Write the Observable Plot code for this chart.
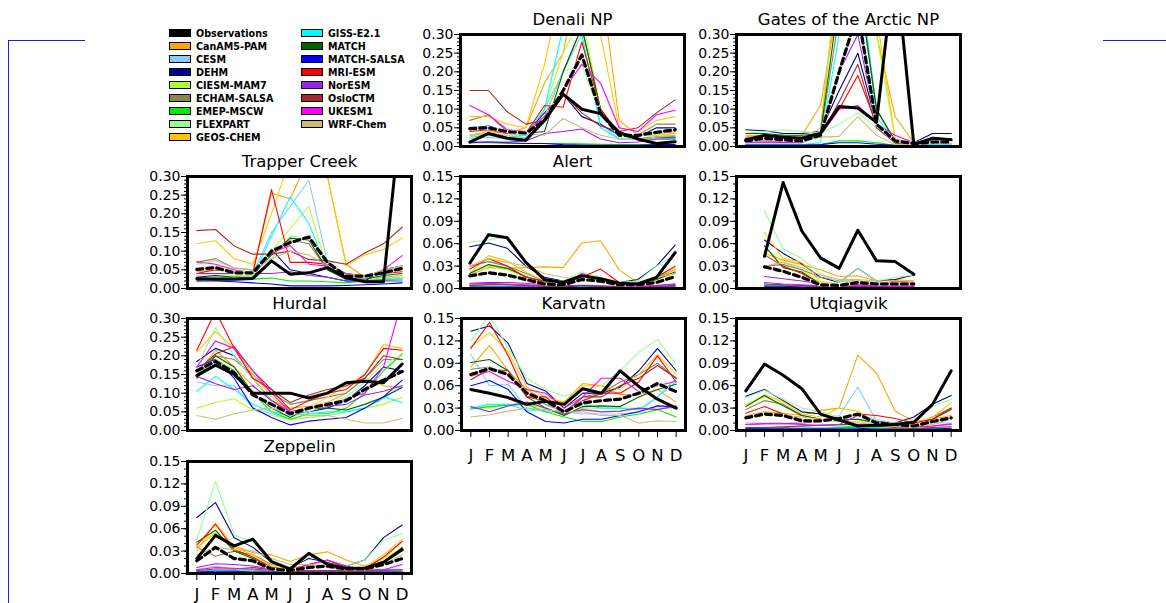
<!DOCTYPE html>
<html><head><meta charset="utf-8">
<script src="https://cdn.jsdelivr.net/npm/d3@7"></script>
<script src="https://cdn.jsdelivr.net/npm/@observablehq/plot@0.6"></script>
<style>
body{margin:0;background:#fff;width:1166px;height:603px;overflow:hidden;position:relative;font-family:"DejaVu Sans",sans-serif}
.panel{position:absolute}
.bl{position:absolute;background:#1a1aff}
.leg{position:absolute;font-family:"DejaVu Sans",sans-serif;font-weight:bold;font-size:9.6px;line-height:13px;white-space:nowrap;color:#000}
.leg span.sw{display:inline-block;width:20px;height:6px;border:1px solid #000;vertical-align:middle;margin-right:5px;position:relative;top:-1px}
</style></head><body>
<div class="bl" style="left:8px;top:40px;width:1px;height:563px"></div>
<div class="bl" style="left:8px;top:40px;width:77px;height:1px"></div>
<div class="bl" style="left:1103px;top:40px;width:63px;height:1px"></div>
<div id="root"></div>
<script>
// ---------- categories ----------
const monthLabels = ["J","F","M","A","M","J","J","A","S","O","N","D"];
const modelNames = ["CanAM5-PAM","CESM","DEHM","CIESM-MAM7","ECHAM-SALSA","EMEP-MSCW","FLEXPART","GEOS-CHEM","GISS-E2.1","MATCH","MATCH-SALSA","MRI-ESM","NorESM","OsloCTM","UKESM1","WRF-Chem"];
const modelColors = ["#ffa500","#87cefa","#00008b","#adff2f","#8b864e","#00ee00","#98fb98","#ffc800","#00ffff","#006400","#0000ff","#ff0000","#a020f0","#a52a2a","#ff00ff","#cdbb75"];
const legendCol1 = ["Observations","CanAM5-PAM","CESM","DEHM","CIESM-MAM7","ECHAM-SALSA","EMEP-MSCW","FLEXPART","GEOS-CHEM"];
const legendCol2 = ["GISS-E2.1","MATCH","MATCH-SALSA","MRI-ESM","NorESM","OsloCTM","UKESM1","WRF-Chem"];
const ticks030 = [0,0.05,0.10,0.15,0.20,0.25,0.30];
const ticks015 = [0,0.03,0.06,0.09,0.12,0.15];

// ---------- Denali NP ----------
const denaliObs = [0.012,0.035,0.022,0.017,0.07,0.14,0.10,0.088,0.038,0.02,0.008,0.013];
const denaliMedian = [0.048,0.05,0.04,0.036,0.07,0.15,0.245,0.09,0.03,0.03,0.038,0.045];
const denaliModels = [
 [0.03,0.04,0.035,0.05,0.17,0.25,0.5,0.45,0.07,0.03,0.03,0.035],
 [0.02,0.025,0.02,0.025,0.1,0.2,0.3,0.06,0.02,0.02,0.02,0.02],
 [0.05,0.055,0.04,0.035,0.09,0.14,0.08,0.06,0.03,0.025,0.05,0.05],
 [0.03,0.03,0.02,0.03,0.1,0.25,0.35,0.1,0.03,0.02,0.03,0.03],
 [0.07,0.085,0.04,0.035,0.08,0.2,0.32,0.1,0.03,0.03,0.06,0.06],
 [0.01,0.01,0.008,0.008,0.008,0.008,0.007,0.006,0.005,0.005,0.005,0.005],
 [0.03,0.03,0.03,0.03,0.08,0.2,0.22,0.08,0.03,0.02,0.025,0.025],
 [0.08,0.08,0.06,0.05,0.22,0.45,0.5,0.3,0.05,0.04,0.07,0.08],
 [0.025,0.03,0.025,0.03,0.1,0.32,0.3,0.05,0.02,0.02,0.02,0.02],
 [0.045,0.05,0.04,0.035,0.04,0.2,0.32,0.1,0.03,0.02,0.025,0.025],
 [0.01,0.012,0.01,0.008,0.008,0.005,0.004,0.003,0.003,0.003,0.005,0.005],
 [0.04,0.045,0.035,0.035,0.11,0.105,0.28,0.1,0.035,0.03,0.035,0.04],
 [0.012,0.012,0.012,0.015,0.035,0.04,0.047,0.02,0.01,0.012,0.02,0.02],
 [0.15,0.15,0.093,0.06,0.07,0.14,0.09,0.055,0.04,0.05,0.09,0.125],
 [0.11,0.085,0.045,0.04,0.08,0.15,0.22,0.17,0.05,0.04,0.085,0.097],
 [0.03,0.035,0.03,0.035,0.03,0.075,0.05,0.03,0.02,0.02,0.025,0.03]
];

// ---------- Gates of the Arctic NP ----------
const gatesObs = [0.018,0.03,0.025,0.022,0.035,0.107,0.103,0.065,0.5,0.005,0.022,0.018];
const gatesMedian = [0.015,0.022,0.018,0.015,0.03,0.2,0.36,0.06,0.015,0.008,0.012,0.012];
const gatesModels = [
 [0.03,0.03,0.025,0.03,0.11,0.4,0.5,0.3,0.08,0.01,0.02,0.02],
 [0.01,0.012,0.01,0.01,0.05,0.5,0.5,0.1,0.01,0.005,0.01,0.01],
 [0.045,0.042,0.035,0.035,0.04,0.15,0.25,0.06,0.01,0.01,0.035,0.035],
 [0.02,0.025,0.02,0.02,0.04,0.5,0.5,0.3,0.02,0.01,0.02,0.02],
 [0.025,0.03,0.025,0.025,0.03,0.35,0.45,0.1,0.01,0.008,0.015,0.015],
 [0.005,0.005,0.005,0.004,0.005,0.015,0.015,0.01,0.003,0.002,0.003,0.003],
 [0.035,0.04,0.045,0.04,0.035,0.06,0.09,0.05,0.015,0.01,0.025,0.02],
 [0.025,0.03,0.03,0.025,0.04,0.5,0.5,0.35,0.02,0.01,0.02,0.02],
 [0.005,0.005,0.005,0.005,0.01,0.3,0.5,0.08,0.01,0.005,0.005,0.005],
 [0.035,0.035,0.03,0.03,0.035,0.4,0.45,0.1,0.015,0.01,0.02,0.02],
 [0.004,0.004,0.004,0.004,0.005,0.01,0.01,0.006,0.003,0.002,0.002,0.002],
 [0.015,0.015,0.012,0.012,0.03,0.1,0.19,0.06,0.01,0.005,0.01,0.01],
 [0.01,0.01,0.01,0.01,0.03,0.2,0.3,0.06,0.01,0.005,0.008,0.008],
 [0.02,0.02,0.018,0.018,0.03,0.12,0.22,0.05,0.01,0.005,0.01,0.01],
 [0.015,0.015,0.012,0.012,0.03,0.1,0.11,0.06,0.03,0.01,0.008,0.008],
 [0.015,0.015,0.015,0.015,0.025,0.027,0.08,0.03,0.005,0.005,0.01,0.01]
];

// ---------- Trapper Creek ----------
const trapperObs = [0.026,0.025,0.025,0.027,0.074,0.038,0.042,0.056,0.029,0.018,0.018,0.5];
const trapperMedian = [0.051,0.056,0.042,0.042,0.10,0.123,0.138,0.07,0.033,0.033,0.042,0.054];
const trapperModels = [
 [0.045,0.05,0.045,0.045,0.255,0.24,0.35,0.3,0.065,0.03,0.03,0.035],
 [0.03,0.03,0.03,0.04,0.15,0.22,0.29,0.07,0.02,0.02,0.03,0.03],
 [0.03,0.035,0.03,0.03,0.105,0.05,0.04,0.03,0.02,0.02,0.05,0.06],
 [0.035,0.04,0.035,0.035,0.1,0.16,0.22,0.05,0.025,0.02,0.02,0.03],
 [0.07,0.08,0.055,0.05,0.09,0.13,0.12,0.05,0.03,0.03,0.05,0.06],
 [0.02,0.03,0.03,0.025,0.028,0.02,0.02,0.018,0.015,0.02,0.025,0.025],
 [0.05,0.06,0.05,0.045,0.08,0.14,0.135,0.06,0.03,0.03,0.04,0.05],
 [0.12,0.128,0.08,0.065,0.2,0.35,0.4,0.3,0.06,0.09,0.105,0.135],
 [0.025,0.025,0.025,0.03,0.14,0.245,0.175,0.05,0.025,0.02,0.02,0.025],
 [0.05,0.055,0.045,0.04,0.09,0.135,0.13,0.05,0.025,0.025,0.035,0.04],
 [0.02,0.02,0.018,0.015,0.012,0.007,0.007,0.007,0.008,0.01,0.012,0.015],
 [0.04,0.05,0.045,0.04,0.265,0.07,0.07,0.065,0.04,0.035,0.04,0.045],
 [0.04,0.04,0.04,0.04,0.04,0.045,0.035,0.03,0.02,0.02,0.02,0.02],
 [0.155,0.158,0.114,0.092,0.092,0.1,0.078,0.074,0.065,0.095,0.12,0.164],
 [0.072,0.065,0.05,0.04,0.095,0.115,0.065,0.06,0.03,0.03,0.05,0.088],
 [0.065,0.075,0.055,0.05,0.08,0.1,0.09,0.06,0.03,0.03,0.05,0.06]
];

// ---------- Alert ----------
const alertObs = [0.034,0.072,0.068,0.035,0.012,0.008,0.017,0.013,0.007,0.006,0.015,0.048];
const alertMedian = [0.017,0.021,0.018,0.012,0.006,0.005,0.012,0.01,0.005,0.005,0.008,0.016];
const alertModels = [
 [0.018,0.028,0.027,0.028,0.029,0.028,0.061,0.064,0.025,0.008,0.015,0.028],
 [0.005,0.006,0.005,0.004,0.003,0.003,0.005,0.004,0.003,0.003,0.004,0.005],
 [0.056,0.061,0.054,0.03,0.015,0.01,0.018,0.012,0.008,0.012,0.03,0.058],
 [0.022,0.03,0.025,0.015,0.008,0.006,0.01,0.008,0.005,0.005,0.012,0.02],
 [0.03,0.036,0.03,0.02,0.01,0.008,0.012,0.01,0.006,0.006,0.014,0.025],
 [0.004,0.005,0.005,0.004,0.003,0.002,0.003,0.003,0.002,0.002,0.003,0.004],
 [0.062,0.065,0.07,0.035,0.012,0.01,0.022,0.015,0.008,0.01,0.03,0.045],
 [0.02,0.044,0.037,0.022,0.01,0.008,0.012,0.01,0.006,0.005,0.012,0.025],
 [0.003,0.003,0.003,0.002,0.002,0.002,0.003,0.002,0.002,0.002,0.002,0.003],
 [0.02,0.032,0.027,0.016,0.008,0.006,0.012,0.01,0.005,0.005,0.012,0.022],
 [0.002,0.002,0.002,0.002,0.002,0.002,0.004,0.003,0.002,0.002,0.002,0.002],
 [0.026,0.04,0.03,0.015,0.01,0.008,0.015,0.026,0.008,0.005,0.015,0.03],
 [0.007,0.008,0.008,0.007,0.005,0.004,0.004,0.003,0.003,0.003,0.004,0.006],
 [0.004,0.005,0.005,0.004,0.003,0.003,0.004,0.003,0.002,0.002,0.003,0.004],
 [0.006,0.007,0.006,0.005,0.004,0.005,0.02,0.012,0.004,0.003,0.004,0.006],
 [0.03,0.04,0.035,0.03,0.02,0.015,0.01,0.008,0.006,0.008,0.015,0.02]
];

// ---------- Gruvebadet (Feb-Oct) ----------
const gruveObs = [null,0.043,0.142,0.077,0.041,0.027,0.078,0.037,0.036,0.019,null,null];
const gruveMedian = [null,0.029,0.023,0.015,0.005,0.004,0.008,0.006,0.006,0.006,null,null];
const gruveModels = [
 [null,0.047,0.038,0.032,0.025,0.016,0.017,0.01,0.012,0.01,null,null],
 [null,0.005,0.005,0.004,0.004,0.003,0.004,0.003,0.003,0.003,null,null],
 [null,0.065,0.047,0.033,0.015,0.008,0.027,0.01,0.012,0.018,null,null],
 [null,0.055,0.035,0.025,0.008,0.005,0.008,0.005,0.005,0.005,null,null],
 [null,0.03,0.032,0.025,0.015,0.01,0.01,0.008,0.008,0.008,null,null],
 [null,0.004,0.004,0.003,0.003,0.002,0.003,0.002,0.002,0.002,null,null],
 [null,0.104,0.053,0.04,0.02,0.008,0.027,0.01,0.015,0.018,null,null],
 [null,0.075,0.04,0.035,0.01,0.005,0.01,0.007,0.006,0.006,null,null],
 [null,0.003,0.003,0.002,0.002,0.002,0.002,0.002,0.002,0.002,null,null],
 [null,0.057,0.028,0.022,0.006,0.004,0.006,0.005,0.005,0.005,null,null],
 [null,0.003,0.003,0.002,0.002,0.002,0.002,0.002,0.002,0.002,null,null],
 [null,0.045,0.03,0.02,0.005,0.004,0.006,0.005,0.01,0.008,null,null],
 [null,0.016,0.013,0.01,0.006,0.005,0.005,0.004,0.004,0.004,null,null],
 [null,0.006,0.005,0.004,0.003,0.003,0.003,0.003,0.003,0.003,null,null],
 [null,0.008,0.006,0.005,0.004,0.003,0.004,0.003,0.003,0.003,null,null],
 [null,0.03,0.035,0.028,0.018,0.012,0.012,0.01,0.01,0.01,null,null]
];

// ---------- Hurdal ----------
const hurdalObs = [0.147,0.175,0.15,0.10,0.10,0.10,0.087,0.10,0.128,0.132,0.128,0.178];
const hurdalMedian = [0.16,0.185,0.155,0.095,0.07,0.045,0.06,0.07,0.08,0.11,0.135,0.158];
const hurdalModels = [
 [0.15,0.215,0.17,0.12,0.08,0.06,0.065,0.075,0.1,0.14,0.12,0.115],
 [0.13,0.12,0.12,0.06,0.045,0.03,0.035,0.04,0.05,0.06,0.085,0.12],
 [0.185,0.22,0.2,0.14,0.08,0.045,0.05,0.06,0.08,0.12,0.17,0.16],
 [0.06,0.075,0.085,0.055,0.04,0.03,0.035,0.04,0.05,0.06,0.07,0.09],
 [0.16,0.2,0.19,0.15,0.1,0.07,0.08,0.09,0.1,0.14,0.19,0.19],
 [0.15,0.19,0.16,0.1,0.05,0.03,0.045,0.045,0.06,0.1,0.16,0.205],
 [0.17,0.275,0.2,0.14,0.08,0.04,0.05,0.07,0.09,0.13,0.18,0.2],
 [0.21,0.265,0.22,0.15,0.09,0.05,0.06,0.09,0.12,0.15,0.23,0.22],
 [0.105,0.145,0.11,0.07,0.05,0.04,0.045,0.05,0.05,0.06,0.09,0.075],
 [0.14,0.2,0.17,0.1,0.06,0.035,0.06,0.06,0.055,0.07,0.09,0.115],
 [0.17,0.19,0.14,0.06,0.035,0.015,0.025,0.03,0.035,0.06,0.09,0.135],
 [0.215,0.32,0.22,0.14,0.11,0.055,0.08,0.1,0.11,0.15,0.22,0.215],
 [0.145,0.125,0.11,0.12,0.08,0.05,0.06,0.065,0.07,0.095,0.105,0.12],
 [0.16,0.205,0.225,0.16,0.11,0.075,0.095,0.11,0.12,0.14,0.2,0.19],
 [0.17,0.24,0.22,0.16,0.1,0.05,0.06,0.065,0.085,0.1,0.17,0.35],
 [0.04,0.03,0.045,0.055,0.06,0.045,0.04,0.04,0.03,0.02,0.02,0.033]
];

// ---------- Karvatn ----------
const karvatnObs = [0.055,0.05,0.044,0.035,0.039,0.035,0.056,0.05,0.08,0.059,0.042,0.030];
const karvatnMedian = [0.075,0.083,0.075,0.05,0.04,0.025,0.037,0.04,0.042,0.05,0.063,0.052];
const karvatnModels = [
 [0.085,0.114,0.08,0.055,0.04,0.038,0.063,0.06,0.048,0.048,0.055,0.038],
 [0.102,0.06,0.062,0.03,0.025,0.025,0.022,0.022,0.022,0.025,0.045,0.07],
 [0.133,0.14,0.117,0.063,0.053,0.03,0.05,0.05,0.058,0.08,0.11,0.08],
 [0.03,0.03,0.035,0.035,0.03,0.02,0.03,0.03,0.03,0.03,0.03,0.03],
 [0.082,0.085,0.075,0.05,0.035,0.025,0.045,0.05,0.065,0.075,0.09,0.07],
 [0.029,0.032,0.034,0.035,0.025,0.018,0.012,0.012,0.018,0.022,0.028,0.018],
 [0.12,0.155,0.11,0.07,0.055,0.046,0.055,0.06,0.08,0.105,0.122,0.088],
 [0.112,0.131,0.105,0.058,0.045,0.038,0.06,0.06,0.055,0.075,0.102,0.075],
 [0.03,0.035,0.035,0.027,0.028,0.025,0.035,0.03,0.03,0.028,0.045,0.065],
 [0.091,0.095,0.08,0.045,0.03,0.02,0.032,0.033,0.032,0.045,0.055,0.062],
 [0.06,0.067,0.055,0.025,0.012,0.01,0.015,0.015,0.02,0.025,0.033,0.032],
 [0.11,0.145,0.1,0.045,0.045,0.025,0.04,0.05,0.05,0.065,0.1,0.065],
 [0.032,0.025,0.033,0.038,0.03,0.022,0.028,0.025,0.026,0.03,0.028,0.033],
 [0.068,0.082,0.08,0.045,0.04,0.022,0.045,0.045,0.06,0.07,0.087,0.07],
 [0.073,0.079,0.066,0.055,0.05,0.03,0.045,0.07,0.07,0.052,0.06,0.066],
 [0.018,0.021,0.026,0.03,0.028,0.025,0.025,0.02,0.02,0.01,0.013,0.012]
];

// ---------- Utqiagvik ----------
const utqObs = [0.053,0.089,0.074,0.056,0.022,0.014,0.006,0.007,0.008,0.011,0.035,0.08];
const utqMedian = [0.017,0.022,0.02,0.013,0.013,0.016,0.022,0.01,0.008,0.006,0.012,0.017];
const utqModels = [
 [0.018,0.025,0.023,0.02,0.027,0.03,0.101,0.077,0.026,0.012,0.015,0.02],
 [0.01,0.01,0.01,0.01,0.012,0.02,0.058,0.013,0.008,0.008,0.01,0.01],
 [0.046,0.055,0.04,0.025,0.022,0.015,0.022,0.012,0.01,0.018,0.035,0.047],
 [0.035,0.045,0.035,0.02,0.015,0.012,0.012,0.008,0.006,0.006,0.015,0.028],
 [0.028,0.04,0.035,0.02,0.015,0.015,0.015,0.01,0.008,0.008,0.018,0.03],
 [0.003,0.003,0.004,0.006,0.007,0.006,0.005,0.004,0.002,0.002,0.003,0.003],
 [0.044,0.054,0.042,0.03,0.025,0.018,0.02,0.015,0.01,0.012,0.032,0.042],
 [0.033,0.048,0.038,0.022,0.018,0.03,0.026,0.01,0.008,0.008,0.018,0.037],
 [0.002,0.002,0.002,0.003,0.003,0.004,0.004,0.003,0.002,0.002,0.002,0.002],
 [0.032,0.047,0.033,0.02,0.015,0.014,0.015,0.01,0.006,0.006,0.015,0.03],
 [0.003,0.003,0.003,0.003,0.003,0.003,0.003,0.002,0.002,0.002,0.002,0.003],
 [0.023,0.032,0.022,0.015,0.013,0.015,0.022,0.02,0.016,0.01,0.015,0.028],
 [0.008,0.009,0.009,0.01,0.012,0.015,0.023,0.012,0.008,0.005,0.006,0.008],
 [0.004,0.004,0.005,0.006,0.007,0.008,0.008,0.006,0.004,0.003,0.004,0.005],
 [0.008,0.009,0.009,0.008,0.007,0.008,0.02,0.012,0.007,0.005,0.006,0.009],
 [0.02,0.025,0.02,0.018,0.015,0.012,0.01,0.008,0.006,0.006,0.008,0.015]
];

// ---------- Zeppelin ----------
const zepObs = [0.02,0.051,0.037,0.046,0.016,0.006,0.027,0.012,0.007,0.007,0.015,0.032];
const zepMedian = [0.017,0.035,0.02,0.017,0.006,0.004,0.008,0.01,0.006,0.006,0.012,0.02];
const zepModels = [
 [0.035,0.054,0.037,0.028,0.025,0.016,0.025,0.029,0.018,0.01,0.02,0.043],
 [0.005,0.01,0.006,0.005,0.003,0.003,0.004,0.004,0.003,0.003,0.004,0.005],
 [0.075,0.095,0.048,0.035,0.015,0.008,0.02,0.015,0.01,0.018,0.048,0.065],
 [0.04,0.055,0.03,0.02,0.008,0.005,0.01,0.01,0.006,0.006,0.02,0.033],
 [0.035,0.023,0.03,0.025,0.012,0.008,0.01,0.01,0.006,0.006,0.015,0.03],
 [0.003,0.004,0.004,0.005,0.003,0.002,0.002,0.002,0.002,0.002,0.003,0.003],
 [0.045,0.123,0.052,0.042,0.018,0.008,0.022,0.016,0.01,0.018,0.045,0.053],
 [0.03,0.068,0.035,0.025,0.01,0.006,0.012,0.01,0.006,0.008,0.025,0.046],
 [0.003,0.004,0.003,0.003,0.002,0.002,0.003,0.003,0.002,0.002,0.003,0.003],
 [0.042,0.058,0.03,0.02,0.008,0.005,0.008,0.008,0.005,0.005,0.015,0.035],
 [0.002,0.003,0.003,0.002,0.002,0.002,0.002,0.002,0.002,0.002,0.002,0.002],
 [0.038,0.066,0.032,0.022,0.008,0.005,0.012,0.018,0.008,0.006,0.022,0.043],
 [0.008,0.013,0.012,0.01,0.006,0.004,0.004,0.004,0.004,0.004,0.005,0.012],
 [0.004,0.006,0.006,0.008,0.005,0.003,0.003,0.003,0.003,0.003,0.004,0.005],
 [0.005,0.008,0.007,0.006,0.004,0.004,0.012,0.018,0.01,0.005,0.005,0.005],
 [0.025,0.035,0.032,0.03,0.02,0.012,0.012,0.01,0.008,0.008,0.012,0.025]
];

// ---------- layout ----------
const FW = 224, FH = 112, ML = 52, MR = 4, MT = 30;
const panels = [
  {title:"Denali NP", obs:denaliObs, med:denaliMedian, models:denaliModels, ymax:0.30, ticks:ticks030, xAxis:false, fx:460, fy:34},
  {title:"Gates of the Arctic NP", obs:gatesObs, med:gatesMedian, models:gatesModels, ymax:0.30, ticks:ticks030, xAxis:false, fx:736, fy:34},
  {title:"Trapper Creek", obs:trapperObs, med:trapperMedian, models:trapperModels, ymax:0.30, ticks:ticks030, xAxis:false, fx:187, fy:176},
  {title:"Alert", obs:alertObs, med:alertMedian, models:alertModels, ymax:0.15, ticks:ticks015, xAxis:false, fx:460, fy:176},
  {title:"Gruvebadet", obs:gruveObs, med:gruveMedian, models:gruveModels, ymax:0.15, ticks:ticks015, xAxis:false, fx:736, fy:176},
  {title:"Hurdal", obs:hurdalObs, med:hurdalMedian, models:hurdalModels, ymax:0.30, ticks:ticks030, xAxis:false, fx:187, fy:318},
  {title:"Karvatn", obs:karvatnObs, med:karvatnMedian, models:karvatnModels, ymax:0.15, ticks:ticks015, xAxis:true, pad:12, fx:461, fy:318},
  {title:"Utqiagvik", obs:utqObs, med:utqMedian, models:utqModels, ymax:0.15, ticks:ticks015, xAxis:true, pad:12, fx:736, fy:318},
  {title:"Zeppelin", obs:zepObs, med:zepMedian, models:zepModels, ymax:0.15, ticks:ticks015, xAxis:true, pad:8, fx:187, fy:461}
];

const root = document.getElementById("root");
const monthIdx = d3.range(1, 13);

for (const p of panels) {
  const MB = p.xAxis ? 40 : 4;
  const rows = [];
  p.models.forEach((vals, i) => vals.forEach((v, m) => rows.push({series: modelNames[i], month: m + 1, value: v})));
  const obsRows = p.obs.map((v, m) => ({month: m + 1, value: v}));
  const medRows = p.med.map((v, m) => ({month: m + 1, value: v}));
  const minor = d3.range(0, Math.round(p.ymax * 100) + 1).map(k => k / 100);
  const marks = [
    Plot.lineY(rows, {x: "month", y: "value", z: "series", stroke: "series", strokeWidth: 1.1, clip: true, defined: d => d.value != null}),
    Plot.lineY(medRows, {x: "month", y: "value", stroke: "white", strokeWidth: 3.2, clip: true, defined: d => d.value != null}),
    Plot.lineY(medRows, {x: "month", y: "value", stroke: "black", strokeWidth: 3.2, strokeDasharray: "6,4", clip: true, defined: d => d.value != null}),
    Plot.lineY(obsRows, {x: "month", y: "value", stroke: "black", strokeWidth: 3, clip: true, defined: d => d.value != null}),
    Plot.axisY({ticks: minor, tickSize: 3, tickFormat: () => "", label: null}),
    Plot.axisY({ticks: p.ticks, tickSize: 6, tickPadding: 1, tickFormat: d3.format(".2f"), fontSize: 14, label: null}),
    Plot.frame({stroke: "black", strokeWidth: 3}),
    Plot.text([p.title], {frameAnchor: "top", lineAnchor: "bottom", dy: -10, fontSize: 16.5})
  ];
  if (p.xAxis) marks.push(Plot.axisX({ticks: monthIdx, tickFormat: i => monthLabels[i - 1], tickSize: 7, tickPadding: p.pad, fontSize: 16.5, label: null}));
  const chart = Plot.plot({
    width: FW + ML + MR, height: FH + MT + MB,
    marginLeft: ML, marginRight: MR, marginTop: MT, marginBottom: MB,
    style: {fontFamily: "DejaVu Sans, sans-serif", background: "transparent", overflow: "visible", color: "black"},
    x: {domain: [0.5, 12.5], axis: null},
    y: {domain: [0, p.ymax], axis: null},
    color: {domain: modelNames, range: modelColors},
    marks
  });
  const wrap = document.createElement("div");
  wrap.className = "panel";
  wrap.style.left = (p.fx - ML) + "px";
  wrap.style.top = (p.fy - MT) + "px";
  wrap.appendChild(chart);
  root.appendChild(wrap);
}

// ---------- legend ----------
function legendColor(name) {
  return name === "Observations" ? "#000" : modelColors[modelNames.indexOf(name)];
}
[[legendCol1, 169, 27], [legendCol2, 301, 27]].forEach(([items, x, y]) => {
  const div = document.createElement("div");
  div.className = "leg";
  div.style.left = x + "px";
  div.style.top = y + "px";
  div.innerHTML = items.map(n => `<div><span class="sw" style="background:${legendColor(n)}"></span>${n}</div>`).join("");
  root.appendChild(div);
});
</script>
</body></html>
